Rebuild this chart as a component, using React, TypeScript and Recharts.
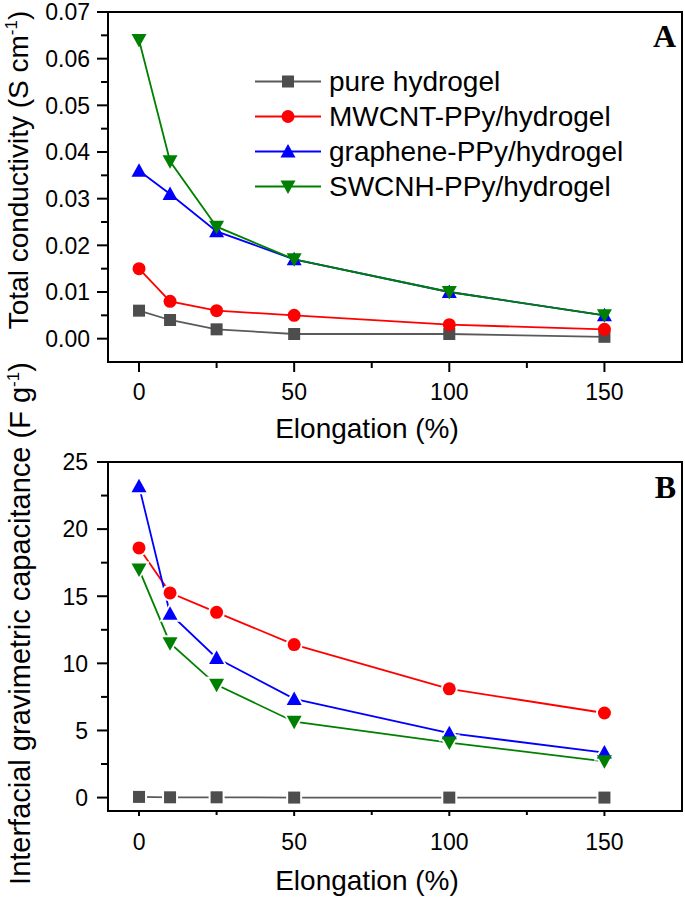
import React from 'react';
import { LineChart, Line, XAxis, YAxis, ReferenceArea, Legend } from 'recharts';

const FONT = '"Liberation Sans", Arial, sans-serif';

const elongation = [0, 10, 25, 50, 100, 150];

// panel A - total conductivity (S cm-1)
const condPure = [0.006, 0.004, 0.002, 0.001, 0.001, 0.0004];
const condMwcnt = [0.015, 0.008, 0.006, 0.005, 0.003, 0.002];
const condGraphene = [0.036, 0.031, 0.023, 0.017, 0.01, 0.005];
const condSwcnh = [0.064, 0.038, 0.024, 0.017, 0.01, 0.005];

// panel B - interfacial gravimetric capacitance (F g-1)
const capPure = [0.05, 0.02, 0.02, 0, 0, 0];
const capMwcnt = [18.6, 15.25, 13.8, 11.4, 8.1, 6.3];
const capGraphene = [23.2, 13.7, 10.4, 7.35, 4.8, 3.35];
const capSwcnh = [17.0, 11.5, 8.4, 5.65, 4.1, 2.7];

const seriesKeys = ['pure', 'mwcnt', 'graphene', 'swcnh'];
const seriesNames = ['pure hydrogel', 'MWCNT-PPy/hydrogel', 'graphene-PPy/hydrogel', 'SWCNH-PPy/hydrogel'];
const lineColors = ['#5a5a5a', '#ff0000', '#0000ff', '#008000'];
const markerColors = ['#4d4d4d', '#ff0000', '#0000ff', '#008000'];
const markerShapes = ['square', 'circle', 'up', 'down'];

const xTicks = [0, 25, 50, 75, 100, 125, 150];
const xMajor = [0, 50, 100, 150];
const yTicksA = [0, 0.005, 0.01, 0.015, 0.02, 0.025, 0.03, 0.035, 0.04, 0.045, 0.05, 0.055, 0.06, 0.065, 0.07];
const yTicksB = [0, 2.5, 5, 7.5, 10, 12.5, 15, 17.5, 20, 22.5, 25];

const dataA = elongation.map((x, i) => ({
  x,
  pure: condPure[i],
  mwcnt: condMwcnt[i],
  graphene: condGraphene[i],
  swcnh: condSwcnh[i],
}));

const dataB = elongation.map((x, i) => ({
  x,
  pure: capPure[i],
  mwcnt: capMwcnt[i],
  graphene: capGraphene[i],
  swcnh: capSwcnh[i],
}));

// grow > 0 gives a bigger white copy used as a gap around the marker
function Marker({ cx, cy, shape, color, grow = 0 }: any) {
  const g = grow;
  if (shape === 'square') {
    const s = 6 + g;
    return <rect x={cx - s} y={cy - s} width={2 * s} height={2 * s} fill={color} />;
  }
  if (shape === 'circle') {
    return <circle cx={cx} cy={cy} r={6.5 + g} fill={color} />;
  }
  const w = 7.5 + g * 1.6;
  const h1 = 7.5 + g * 1.8;
  const h2 = 6 + g;
  if (shape === 'up') {
    return <polygon points={`${cx},${cy - h1} ${cx + w},${cy + h2} ${cx - w},${cy + h2}`} fill={color} />;
  }
  return <polygon points={`${cx},${cy + h1} ${cx + w},${cy - h2} ${cx - w},${cy - h2}`} fill={color} />;
}

// y ticks: long ones with labels, short ones in between
const makeYTick = (step: number, size: number, margin: number, digits: number) => (props: any) => {
  const { x, y, payload } = props;
  const v = payload.value;
  const major = Math.round(v / step) % 2 === 0;
  const right = x + margin + size;
  return (
    <g>
      <line x1={right - (major ? size : 7)} x2={right} y1={y} y2={y} stroke="#000" strokeWidth={2} />
      {major && (
        <text x={x} y={y} dy="0.36em" textAnchor="end" fontSize={23} fontFamily={FONT} fill="#000">
          {v.toFixed(digits)}
        </text>
      )}
    </g>
  );
};

const makeXTick = (size: number, minor: number, margin: number) => (props: any) => {
  const { x, y, payload } = props;
  const v = payload.value;
  const major = xMajor.includes(v);
  const top = y - margin - size;
  return (
    <g>
      <line x1={x} x2={x} y1={top} y2={top + (major ? size : minor)} stroke="#000" strokeWidth={2} />
      {major && (
        <text x={x} y={y} dy="0.72em" textAnchor="middle" fontSize={23} fontFamily={FONT} fill="#000">
          {v}
        </text>
      )}
    </g>
  );
};

const xTitle = (dy: number) => (props: any) => {
  const vb = props.viewBox || { x: 108, y: 0, width: 574 };
  return (
    <text x={vb.x + vb.width / 2 - 28} y={vb.y + dy} textAnchor="middle" fontSize={28} fontFamily={FONT} fill="#000">
      Elongation (%)
    </text>
  );
};

const yTitle = (main: string, unit: string, cx: number, shift: number, size: number) => (props: any) => {
  const vb = props.viewBox || { y: 0, height: 350 };
  const cy = vb.y + vb.height / 2 + shift;
  return (
    <text
      x={cx}
      y={cy}
      transform={`rotate(-90, ${cx}, ${cy})`}
      textAnchor="middle"
      fontSize={size}
      fontFamily={FONT}
      fill="#000"
    >
      {main} ({unit}
      <tspan dy={-11} fontSize={17}>-1</tspan>
      <tspan dy={11}>)</tspan>
    </text>
  );
};

const renderLegend = () => (
  <div style={{ fontFamily: FONT, fontSize: 28, color: '#000' }}>
    {seriesNames.map((name, i) => (
      <div key={name} style={{ display: 'flex', alignItems: 'center', height: 35 }}>
        <svg width={66} height={35}>
          <line x1={0} x2={66} y1={17.5} y2={17.5} stroke={lineColors[i]} strokeWidth={2} />
          <Marker cx={33} cy={17.5} shape={markerShapes[i]} color={markerColors[i]} />
        </svg>
        <span style={{ marginLeft: 8, lineHeight: '35px', whiteSpace: 'nowrap' }}>{name}</span>
      </div>
    ))}
  </div>
);

// panel A: line + markers per series
function renderLinesA() {
  return seriesKeys.map((key, i) => (
    <Line
      key={key}
      type="linear"
      dataKey={key}
      name={seriesNames[i]}
      stroke={lineColors[i]}
      strokeWidth={1.8}
      isAnimationActive={false}
      dot={(p: any) => <Marker key={`${key}-${p.index}`} cx={p.cx} cy={p.cy} shape={markerShapes[i]} color={markerColors[i]} />}
      activeDot={false}
    />
  ));
}

// panel B: all lines, then white gaps, then markers (Origin style gap at each point)
function renderLinesB() {
  const lines = seriesKeys.map((key, i) => (
    <Line
      key={`l-${key}`}
      type="linear"
      dataKey={key}
      stroke={lineColors[i]}
      strokeWidth={1.8}
      isAnimationActive={false}
      dot={false}
      activeDot={false}
    />
  ));
  const gaps = seriesKeys.map((key, i) => (
    <Line
      key={`g-${key}`}
      type="linear"
      dataKey={key}
      stroke="none"
      isAnimationActive={false}
      dot={(p: any) => <Marker key={`g-${key}-${p.index}`} cx={p.cx} cy={p.cy} shape={markerShapes[i]} color="#fff" grow={2} />}
      activeDot={false}
    />
  ));
  const marks = seriesKeys.map((key, i) => (
    <Line
      key={`m-${key}`}
      type="linear"
      dataKey={key}
      stroke="none"
      isAnimationActive={false}
      dot={(p: any) => <Marker key={`m-${key}-${p.index}`} cx={p.cx} cy={p.cy} shape={markerShapes[i]} color={markerColors[i]} />}
      activeDot={false}
    />
  ));
  return [...lines, ...gaps, ...marks];
}

const panelLetter = (top: number): React.CSSProperties => ({
  position: 'absolute',
  right: 9,
  top,
  zIndex: 3,
  fontFamily: '"Liberation Serif", "Times New Roman", serif',
  fontWeight: 'bold',
  fontSize: 32,
  lineHeight: '32px',
});

export default function App() {
  return (
    <div style={{ position: 'absolute', left: 0, top: 0, width: 685, height: 897, background: '#fff' }}>
      <style>{'.recharts-surface { overflow: visible; } .recharts-wrapper { overflow: visible; }'}</style>
      <div style={{ position: 'absolute', left: 0, top: 0, zIndex: 2 }}>
        <LineChart width={685} height={440} data={dataA} margin={{ top: 12, right: 3, left: 0, bottom: 0 }}>
          <XAxis
            type="number"
            dataKey="x"
            domain={[-10, 175]}
            ticks={xTicks}
            interval={0}
            allowDataOverflow
            height={78}
            tickSize={10}
            tickMargin={11}
            tickLine={false}
            tick={makeXTick(10, 6, 11)}
            axisLine={{ stroke: '#000', strokeWidth: 2 }}
            label={xTitle(76)}
          />
          <YAxis
            type="number"
            domain={[-0.005, 0.07]}
            ticks={yTicksA}
            interval={0}
            allowDataOverflow
            width={108}
            tickSize={11}
            tickMargin={7}
            tickLine={false}
            tick={makeYTick(0.005, 11, 7, 2)}
            axisLine={{ stroke: '#000', strokeWidth: 2 }}
            label={yTitle('Total conductivity', 'S cm', 28, -17, 28)}
          />
          <ReferenceArea x1={-10} x2={175} y1={-0.005} y2={0.07} fill="none" stroke="#000" strokeWidth={2} ifOverflow="visible" />
          <Legend
            layout="vertical"
            align="center"
            verticalAlign="middle"
            content={renderLegend}
            wrapperStyle={{ left: 255, top: 64, width: 'auto' }}
          />
          {renderLinesA()}
        </LineChart>
      </div>
      <div style={{ position: 'absolute', left: 0, top: 440, zIndex: 1 }}>
        <LineChart width={685} height={457} data={dataB} margin={{ top: 22, right: 3, left: 0, bottom: 0 }}>
          <XAxis
            type="number"
            dataKey="x"
            domain={[-10, 175]}
            ticks={xTicks}
            interval={0}
            allowDataOverflow
            height={86}
            tickSize={5}
            tickMargin={17}
            tickLine={false}
            tick={makeXTick(5, 4, 17)}
            axisLine={{ stroke: '#000', strokeWidth: 2 }}
            label={xTitle(79)}
          />
          <YAxis
            type="number"
            domain={[-1, 25]}
            ticks={yTicksB}
            interval={0}
            allowDataOverflow
            width={108}
            tickSize={11}
            tickMargin={9}
            tickLine={false}
            tick={makeYTick(2.5, 11, 9, 0)}
            axisLine={{ stroke: '#000', strokeWidth: 2 }}
            label={yTitle('Interfacial gravimetric capacitance', 'F g', 30, -13, 29)}
          />
          <ReferenceArea x1={-10} x2={175} y1={-1} y2={25} fill="none" stroke="#000" strokeWidth={2} ifOverflow="visible" />
          {renderLinesB()}
        </LineChart>
      </div>
      <div style={panelLetter(20)}>A</div>
      <div style={panelLetter(471)}>B</div>
    </div>
  );
}
